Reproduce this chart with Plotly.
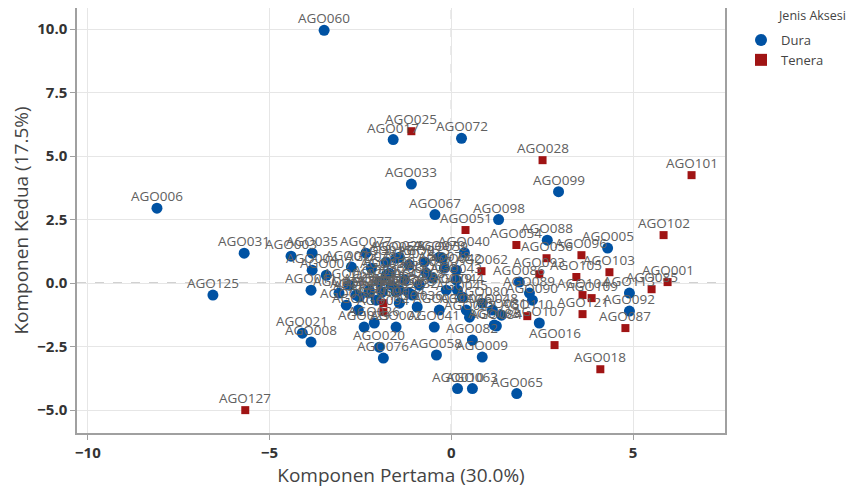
import plotly.graph_objects as go

# Dura accessions
dura_names = ["AGO060","AGO017","AGO072","AGO033","AGO099","AGO006","AGO067","AGO098","AGO088","AGO005",
              "AGO040","AGO031","AGO003","AGO035","AGO077","AGO023","AGO070","AGO125","AGO113","AGO092",
              "AGO107","AGO065","AGO010","AGO063","AGO009","AGO058","AGO082","AGO084","AGO021","AGO008",
              "AGO076","AGO020","AGO029","AGO026","AGO002","AGO004","AGO007","AGO011","AGO012","AGO013",
              "AGO014","AGO015","AGO019","AGO022","AGO024","AGO027","AGO030","AGO032","AGO034","AGO036",
              "AGO037","AGO038","AGO039","AGO041","AGO042","AGO043","AGO044","AGO045","AGO046","AGO047",
              "AGO048","AGO049","AGO050","AGO052","AGO053","AGO055","AGO056","AGO057","AGO059","AGO061",
              "AGO064","AGO066","AGO068","AGO069","AGO071","AGO073","AGO074","AGO075","AGO078","AGO079",
              "AGO080","AGO081","AGO083","AGO086","AGO089","AGO090"]
dura_x = [-3.50,-1.60,0.28,-1.10,2.95,-8.10,-0.45,1.30,2.64,4.30,
          0.36,-5.70,-4.41,-3.83,-2.35,-1.43,-0.33,-6.56,4.90,4.90,
          2.42,1.80,0.17,0.58,0.85,-0.41,0.58,1.24,-4.10,-3.86,
          -1.87,-1.98,-2.40,-2.12,-1.52,-3.83,-3.44,-3.86,-2.75,-2.89,
          -2.56,-1.79,-1.71,-1.98,-2.26,-2.53,-1.43,-1.07,-1.43,-0.94,
          -0.69,-0.52,-0.33,-0.47,0.14,0.14,0.17,0.30,0.41,0.50,
          1.13,-2.62,-2.26,-1.90,-1.52,-1.16,-1.79,-1.52,-0.25,-2.07,
          -1.65,-1.29,-0.88,-2.81,-3.09,-2.20,-1.16,-0.74,-0.19,-0.14,
          0.85,1.38,1.18,1.87,2.15,2.23]
dura_y = [9.95,5.65,5.70,3.90,3.60,2.95,2.70,2.50,1.69,1.38,
          1.20,1.18,1.06,1.18,1.18,1.02,1.02,-0.47,-0.39,-1.10,
          -1.57,-4.35,-4.15,-4.15,-2.91,-2.83,-2.24,-1.69,-1.97,-2.32,
          -2.95,-2.52,-1.73,-1.57,-1.73,0.51,0.31,-0.28,0.63,-0.87,
          -1.06,0.83,0.39,0.04,-0.28,-0.55,-0.28,-0.47,-0.79,-0.94,
          0.39,0.20,-1.06,-1.73,0.51,0.12,-0.28,-0.55,-1.06,-1.34,
          -1.06,-0.47,-0.39,-0.35,-0.35,-0.39,0.31,0.98,0.98,-0.67,
          -0.08,0.12,-0.08,-0.08,-0.39,0.59,0.71,0.83,0.59,-0.28,
          -0.79,-1.26,-1.65,0.04,-0.39,-0.67]

# Tenera accessions
tenera_names = ["AGO025","AGO028","AGO101","AGO051","AGO102","AGO054","AGO096","AGO056","AGO062","AGO093",
                "AGO105","AGO103","AGO001","AGO085","AGO104","AGO109","AGO110","AGO121","AGO087","AGO016",
                "AGO018","AGO127","AGO091","AGO094"]
tenera_x = [-1.10,2.51,6.61,0.39,5.84,1.79,3.58,2.62,0.83,2.42,
            3.44,4.35,5.95,5.51,3.61,3.86,2.09,3.61,4.79,2.84,
            4.10,-5.67,-1.87,-1.87]
tenera_y = [5.98,4.84,4.25,2.09,1.89,1.50,1.10,0.98,0.47,0.35,
            0.24,0.43,0.04,-0.24,-0.47,-0.59,-1.30,-1.22,-1.77,-2.44,
            -3.39,-5.00,-0.79,-1.14]

FONT = "Open Sans, sans-serif"
label_font = dict(family=FONT, size=13.5, color="#606060")

fig = go.Figure()
fig.add_trace(go.Scatter(
    x=dura_x, y=dura_y, mode="markers", name="Dura",
    marker=dict(symbol="circle", size=11, color="#0052A3"),
))
fig.add_trace(go.Scatter(
    x=tenera_x, y=tenera_y, mode="markers", name="Tenera",
    marker=dict(symbol="square", size=8, color="#A01414"),
))

# point labels, placed just above each point
for names, xs, ys in [(dura_names, dura_x, dura_y), (tenera_names, tenera_x, tenera_y)]:
    for n, xv, yv in zip(names, xs, ys):
        fig.add_annotation(x=xv, y=yv, text=n, showarrow=False, yshift=12,
                           xanchor="center", yanchor="middle", font=label_font)

fig.add_shape(type="line", xref="x", yref="paper", x0=0, x1=0, y0=0, y1=1,
              line=dict(color="#8a8a8a", width=1, dash="dash"), layer="below")
fig.add_shape(type="line", xref="paper", yref="y", x0=0, x1=1, y0=0, y1=0,
              line=dict(color="#8a8a8a", width=1, dash="dash"), layer="below")

fig.add_annotation(text="Jenis Aksesi", xref="paper", yref="paper",
                   x=(768 - 69) / 648, y=1 - 8 / 425, xanchor="left", yanchor="middle",
                   showarrow=False, font=dict(family=FONT, size=12.5, color="#444444"))

axis_common = dict(
    showgrid=True, gridcolor="#e6e6e6", gridwidth=1, zeroline=False,
    showline=True, linecolor="#a0a0a0", linewidth=1.5, mirror=True,
    ticks="outside", tickcolor="#a0a0a0", ticklen=5, automargin=False,
    tickfont=dict(family=FONT, size=15, color="#333333", weight="bold"),
    title_font=dict(family=FONT, size=19, color="#444444"),
)

fig.update_layout(
    width=850, height=482,
    margin=dict(l=69, r=133, t=0, b=57),
    paper_bgcolor="white", plot_bgcolor="white",
    xaxis=dict(range=[-10.30, 7.53], tickvals=[-10, -5, 0, 5], title_text="Komponen Pertama (30.0%)",
               title_standoff=4, **axis_common),
    yaxis=dict(range=[-5.90, 10.83], tickvals=[-5, -2.5, 0, 2.5, 5, 7.5, 10], tickformat=".1f",
               title_text="Komponen Kedua (17.5%)", title_standoff=6, **axis_common),
    legend=dict(x=1.0247, y=1 - 17 / 425, xanchor="left", yanchor="top",
                font=dict(family=FONT, size=13, color="#444444"),
                itemsizing="constant", tracegroupgap=0),
    showlegend=True,
)

fig.write_html("out.html")
